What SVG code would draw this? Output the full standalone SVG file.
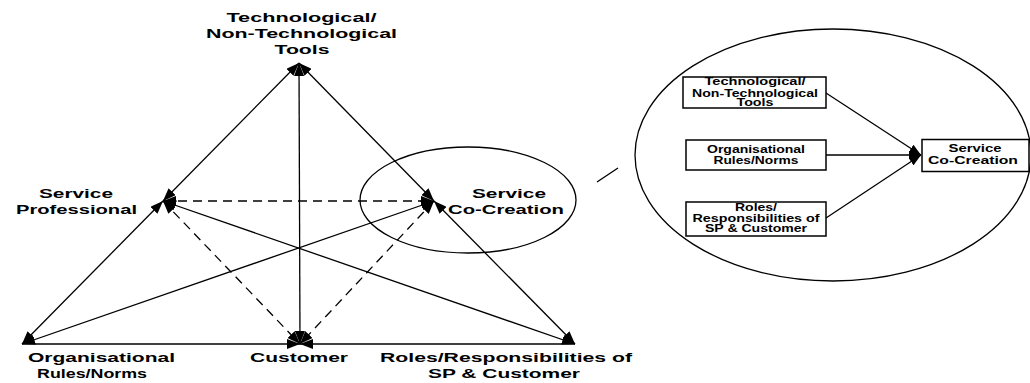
<svg xmlns="http://www.w3.org/2000/svg" width="1030" height="383" viewBox="0 0 1030 383">
<style>
.bg{fill:#fff}
.ln{stroke:#000;stroke-width:1.3;fill:none}
.ds{stroke:#000;stroke-width:1.3;fill:none;stroke-dasharray:9 6}
.el{stroke:#000;stroke-width:1.3;fill:none}
.bx{stroke:#000;stroke-width:1.5;fill:#fff}
.t{font-family:"Liberation Sans",Arial,sans-serif;font-weight:bold;font-size:13.5px;fill:#000;text-anchor:middle}
.s{font-family:"Liberation Sans",Arial,sans-serif;font-weight:bold;font-size:10px;fill:#000;text-anchor:middle}
</style>
<defs>
<marker id="ah" viewBox="0 0 13 10" refX="13" refY="5" markerWidth="13" markerHeight="10" markerUnits="userSpaceOnUse" orient="auto-start-reverse">
<path d="M0,0 L13,5 L0,10 z" fill="#000"/>
</marker>
<marker id="as" viewBox="0 0 12 9" refX="12" refY="4.5" markerWidth="12" markerHeight="9" markerUnits="userSpaceOnUse" orient="auto">
<path d="M0,0 L12,4.5 L0,9 z" fill="#000"/>
</marker>
</defs>
<rect class="bg" x="0" y="0" width="1030" height="383"/>

<g id="connectors">
<line class="ln" x1="299" y1="63" x2="163" y2="201" marker-start="url(#ah)" marker-end="url(#ah)"/>
<line class="ln" x1="163" y1="201" x2="22" y2="344" marker-start="url(#ah)" marker-end="url(#ah)"/>
<line class="ln" x1="299" y1="63" x2="434" y2="201" marker-start="url(#ah)" marker-end="url(#ah)"/>
<line class="ln" x1="434" y1="201" x2="575" y2="344" marker-start="url(#ah)" marker-end="url(#ah)"/>
<line class="ln" x1="22" y1="344" x2="300" y2="344" marker-end="url(#ah)"/>
<line class="ln" x1="575" y1="344" x2="300" y2="344" marker-end="url(#ah)"/>
<line class="ln" x1="299" y1="63" x2="300" y2="344" marker-start="url(#ah)" marker-end="url(#ah)"/>
<line class="ln" x1="22" y1="344" x2="434" y2="201" marker-start="url(#ah)" marker-end="url(#ah)"/>
<line class="ln" x1="575" y1="344" x2="163" y2="201" marker-start="url(#ah)" marker-end="url(#ah)"/>
<line class="ds" x1="163" y1="201" x2="434" y2="201" marker-start="url(#ah)" marker-end="url(#ah)"/>
<line class="ds" x1="163" y1="201" x2="300" y2="344" marker-start="url(#ah)" marker-end="url(#ah)"/>
<line class="ds" x1="434" y1="201" x2="300" y2="344" marker-start="url(#ah)" marker-end="url(#ah)"/>
<line class="ln" x1="597" y1="182" x2="618" y2="168"/>
<line class="ln" x1="826" y1="93" x2="921" y2="155" marker-end="url(#as)"/>
<line class="ln" x1="826" y1="155" x2="921" y2="155" marker-end="url(#as)"/>
<line class="ln" x1="826" y1="218" x2="921" y2="155" marker-end="url(#as)"/>
</g>

<g id="node-tools">
<text class="t" x="301.5" y="22" textLength="150" lengthAdjust="spacingAndGlyphs">Technological/</text>
<text class="t" x="301.5" y="38" textLength="191" lengthAdjust="spacingAndGlyphs">Non-Technological</text>
<text class="t" x="302" y="54" textLength="55" lengthAdjust="spacingAndGlyphs">Tools</text>
</g>
<g id="node-sp">
<text class="t" x="76" y="198" textLength="74" lengthAdjust="spacingAndGlyphs">Service</text>
<text class="t" x="76.5" y="214" textLength="121" lengthAdjust="spacingAndGlyphs">Professional</text>
</g>
<g id="node-sc">
<ellipse class="el" cx="468" cy="200" rx="108" ry="53"/>
<text class="t" x="509" y="198" textLength="74" lengthAdjust="spacingAndGlyphs">Service</text>
<text class="t" x="506" y="214" textLength="116" lengthAdjust="spacingAndGlyphs">Co-Creation</text>
</g>
<g id="node-or">
<text class="t" x="101.5" y="362" textLength="147" lengthAdjust="spacingAndGlyphs">Organisational</text>
<text class="t" x="92" y="378" textLength="110" lengthAdjust="spacingAndGlyphs">Rules/Norms</text>
</g>
<g id="node-c">
<text class="t" x="299" y="362" textLength="98" lengthAdjust="spacingAndGlyphs">Customer</text>
</g>
<g id="node-rr">
<text class="t" x="506" y="362" textLength="252" lengthAdjust="spacingAndGlyphs">Roles/Responsibilities of</text>
<text class="t" x="504" y="378" textLength="152" lengthAdjust="spacingAndGlyphs">SP &amp; Customer</text>
</g>

<g id="zoom-ellipse">
<ellipse class="el" cx="833" cy="155" rx="198" ry="126"/>
</g>
<g id="box-tools">
<rect class="bx" x="683" y="77" width="143" height="31"/>
<text class="s" x="755" y="84.5" textLength="101" lengthAdjust="spacingAndGlyphs">Technological/</text>
<text class="s" x="755" y="96.5" textLength="126" lengthAdjust="spacingAndGlyphs">Non-Technological</text>
<text class="s" x="755" y="106" textLength="37" lengthAdjust="spacingAndGlyphs">Tools</text>
</g>
<g id="box-or">
<rect class="bx" x="686" y="140" width="140" height="30"/>
<text class="s" x="756" y="152.5" textLength="98" lengthAdjust="spacingAndGlyphs">Organisational</text>
<text class="s" x="756" y="163.5" textLength="85" lengthAdjust="spacingAndGlyphs">Rules/Norms</text>
</g>
<g id="box-rr">
<rect class="bx" x="686" y="202" width="140" height="34"/>
<text class="s" x="756" y="210.5" textLength="42" lengthAdjust="spacingAndGlyphs">Roles/</text>
<text class="s" x="756" y="221.5" textLength="127" lengthAdjust="spacingAndGlyphs">Responsibilities of</text>
<text class="s" x="756" y="231.5" textLength="102" lengthAdjust="spacingAndGlyphs">SP &amp; Customer</text>
</g>
<g id="box-sc">
<rect class="bx" x="922" y="139.5" width="107" height="32"/>
<text class="s" x="975" y="152" textLength="53" lengthAdjust="spacingAndGlyphs">Service</text>
<text class="s" x="973" y="163.5" textLength="90" lengthAdjust="spacingAndGlyphs">Co-Creation</text>
</g>
</svg>
